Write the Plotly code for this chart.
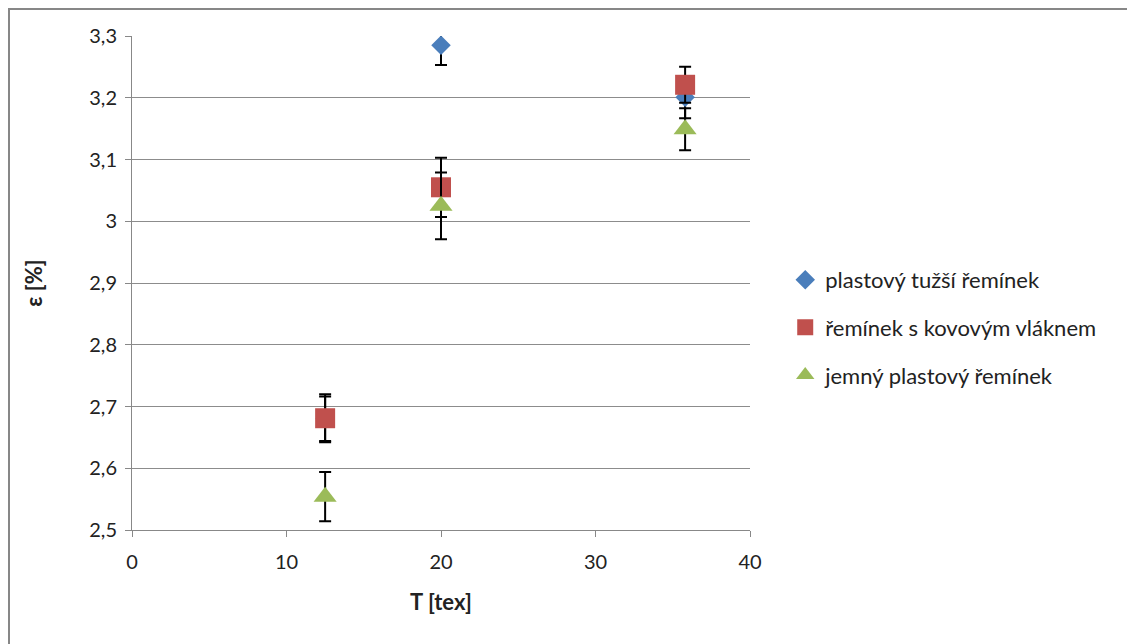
import plotly.graph_objects as go

series_names = ["plastový tužší řemínek", "řemínek s kovovým vláknem", "jemný plastový řemínek"]

# plastový tužší řemínek
x_blue = [12.5, 20.0, 35.8]
y_blue = [2.68, 3.285, 3.201]
e_blue = [0.036, 0.032, 0.034]

# řemínek s kovovým vláknem
x_red = [12.5, 20.0, 35.8]
y_red = [2.681, 3.055, 3.221]
e_red = [0.039, 0.048, 0.029]

# jemný plastový řemínek
x_green = [12.5, 20.0, 35.8]
y_green = [2.554, 3.025, 3.149]
e_green = [0.040, 0.054, 0.034]

colors = ["#4A7EBB", "#C0504D", "#9BBB59"]
symbols = ["diamond", "square", "triangle-up"]
sizes = [15, 20, 20]

fig = go.Figure()
for i, (xs, ys, es) in enumerate([(x_blue, y_blue, e_blue), (x_red, y_red, e_red), (x_green, y_green, e_green)]):
    fig.add_trace(go.Scatter(
        x=xs, y=ys, mode="markers", name=series_names[i],
        legendgroup=f"g{i}",
        marker=dict(symbol=symbols[i], size=sizes[i], color=colors[i], line=dict(width=0)),
        error_y=dict(type="data", array=es, visible=True, color="black", thickness=2, width=6),
        cliponaxis=True,
    ))

W, H = 1127, 636
L, T, PW, PH = 124, 28, 618, 494
font_family = "Lato, 'Open Sans', sans-serif"
fig.update_layout(
    width=W, height=H,
    margin=dict(l=L, r=W - L - PW, t=T, b=H - T - PH),
    paper_bgcolor="white", plot_bgcolor="white",
    separators=", ",
    font=dict(family=font_family, size=20, color="#222"),
    xaxis=dict(range=[0, 40], dtick=10, showgrid=False, zeroline=False,
               showline=True, linecolor="#888", linewidth=1,
               ticks="outside", ticklen=6, tickcolor="#888",
               tickfont=dict(size=20), ticklabelstandoff=8,
               title=dict(text="<b>T [tex]</b>", font=dict(size=22), standoff=22)),
    yaxis=dict(range=[2.5, 3.3], dtick=0.1, showgrid=True, gridcolor="#8c8c8c", gridwidth=1,
               zeroline=False, showline=True, linecolor="#888", linewidth=1,
               ticks="outside", ticklen=6, tickcolor="#888",
               tickfont=dict(size=20), ticklabelstandoff=4,
               title=dict(text="<b>ε [%]</b>", font=dict(size=22), standoff=40)),
    legend=dict(x=1.057, y=0.41, xanchor="left", yanchor="middle",
                font=dict(size=22), tracegroupgap=16, bgcolor="rgba(0,0,0,0)"),
    showlegend=True,
)

# outer chart frame
fig.add_shape(type="rect", xref="paper", yref="paper",
              x0=(1 - L) / PW, x1=(W - 1 - L) / PW,
              y0=(T + PH - H - 20) / PH, y1=(T + PH - 1) / PH,
              line=dict(color="#878787", width=2), layer="below")

fig.write_html("out.html")
